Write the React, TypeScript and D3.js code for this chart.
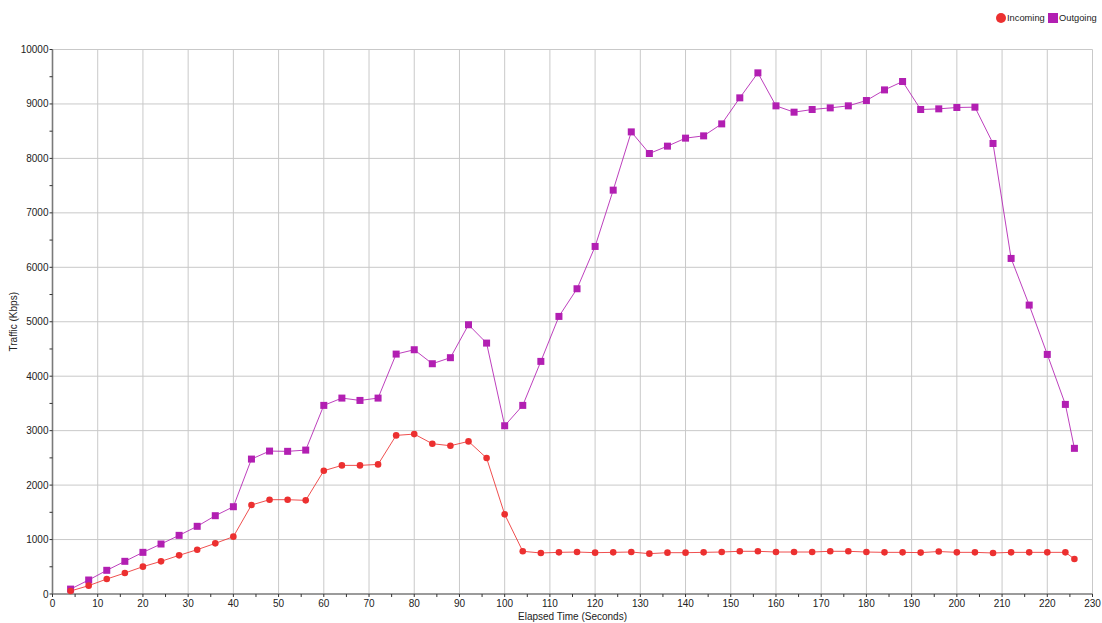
import React from "react";
import * as d3 from "d3";

const times = [4,8,12,16,20,24,28,32,36,40,44,48,52,56,60,64,68,72,76,80,84,88,92,96,100,104,108,112,116,120,124,128,132,136,140,144,148,152,156,160,164,168,172,176,180,184,188,192,196,200,204,208,212,216,220,224,226];

const incoming = [55,153,275,385,502,600,710,814,930,1053,1634,1732,1732,1720,2264,2362,2362,2380,2913,2937,2760,2723,2803,2497,1463,784,753,765,771,759,765,771,741,759,759,765,771,784,784,771,771,771,784,784,771,765,765,760,780,765,765,753,765,765,765,765,643];

const outgoing = [90,257,435,600,765,918,1077,1243,1438,1603,2478,2625,2620,2643,3464,3598,3555,3598,4406,4486,4229,4340,4945,4608,3090,3464,4272,5098,5606,6383,7417,8487,8090,8225,8372,8414,8634,9112,9571,8965,8849,8898,8928,8965,9063,9258,9412,8898,8910,8935,8941,8274,6163,5306,4400,3482,2675];

const xTicks = d3.range(0, 231, 10);
const yTicks = d3.range(0, 10001, 1000);
const xMinor = d3.range(5, 230, 10);
const yMinor = d3.range(500, 10000, 1000);

const FONT = "'Liberation Sans', Arial, sans-serif";
const IN_COLOR = "#ec3030";
const OUT_COLOR = "#b21fb2";

export default function App() {
  const W = 1102, H = 623;
  const left = 52.5, right = 1092.5, top = 49.5, bottom = 594;
  const x = d3.scaleLinear().domain([0, 230]).range([left, right]);
  const y = d3.scaleLinear().domain([0, 10000]).range([bottom, top]);
  const line = d3.line<number>().x((_, i) => x(times[i])).y((d) => y(d));

  return (
    <svg width={W} height={H} style={{ position: "absolute", left: 0, top: 0, background: "#fff" }} fontFamily={FONT}>
      {xTicks.slice(1).map((t) => (
        <line key={"gx" + t} x1={x(t)} x2={x(t)} y1={top} y2={bottom} stroke="#c9c9c9" strokeWidth={1} />
      ))}
      {yTicks.slice(1).map((t) => (
        <line key={"gy" + t} x1={left} x2={right} y1={y(t)} y2={y(t)} stroke="#c9c9c9" strokeWidth={1} />
      ))}
      <line x1={left} x2={left} y1={top} y2={bottom} stroke="#7a7a7a" strokeWidth={1.6} />
      <line x1={left} x2={right} y1={bottom} y2={bottom} stroke="#7a7a7a" strokeWidth={1.6} />
      {yTicks.map((t) => (
        <g key={"yt" + t}>
          <line x1={left - 3} x2={left} y1={y(t)} y2={y(t)} stroke="#333" />
          <text x={left - 4} y={y(t)} dy="0.35em" textAnchor="end" fontSize={10} fill="#222">{t}</text>
        </g>
      ))}
      {yMinor.map((t) => (
        <line key={"ym" + t} x1={left - 3} x2={left} y1={y(t)} y2={y(t)} stroke="#333" />
      ))}
      {xTicks.map((t) => (
        <g key={"xt" + t}>
          <line x1={x(t)} x2={x(t)} y1={bottom} y2={bottom + 3} stroke="#333" />
          <text x={x(t)} y={bottom + 13} textAnchor="middle" fontSize={10} fill="#222">{t}</text>
        </g>
      ))}
      {xMinor.map((t) => (
        <line key={"xm" + t} x1={x(t)} x2={x(t)} y1={bottom} y2={bottom + 3} stroke="#333" />
      ))}
      <text x={(left + right) / 2} y={620} textAnchor="middle" fontSize={10} fill="#222">Elapsed Time (Seconds)</text>
      <text transform={`translate(17,${(top + bottom) / 2}) rotate(-90)`} textAnchor="middle" fontSize={10} fill="#222">Traffic (Kbps)</text>

      <path d={line(outgoing) || ""} fill="none" stroke={OUT_COLOR} strokeWidth={1} strokeOpacity={0.85} />
      <path d={line(incoming) || ""} fill="none" stroke={IN_COLOR} strokeWidth={1} strokeOpacity={0.85} />
      {outgoing.map((v, i) => (
        <rect key={"o" + i} x={x(times[i]) - 3.5} y={y(v) - 3.5} width={7} height={7} fill={OUT_COLOR} />
      ))}
      {incoming.map((v, i) => (
        <circle key={"i" + i} cx={x(times[i])} cy={y(v)} r={3.3} fill={IN_COLOR} />
      ))}

      <circle cx={1001} cy={18} r={5} fill={IN_COLOR} />
      <text x={1007} y={18} dy="0.35em" fontSize={9.3} fill="#222">Incoming</text>
      <rect x={1048} y={13} width={10} height={10} fill={OUT_COLOR} />
      <text x={1059} y={18} dy="0.35em" fontSize={9.3} fill="#222">Outgoing</text>
    </svg>
  );
}
